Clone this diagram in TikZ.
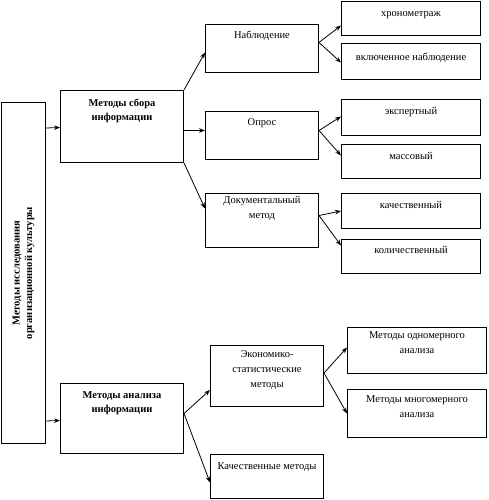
\documentclass[tikz,border=0pt]{standalone}
\usepackage{fontspec}
\setmainfont{Liberation Serif}
\usetikzlibrary{calc,arrows.meta}

\tikzset{
    box/.style={draw,line width=1pt,anchor=north west,inner sep=0pt},
    txt/.style={anchor=north,align=center,inner sep=0pt,font=\fontsize{10.5}{15}\selectfont,
        execute at begin node=\strut},
    head/.style={txt,font=\fontsize{10.5}{14}\selectfont\bfseries},
    arr/.style={line width=0.8pt,-{Stealth[length=6pt,width=4.5pt]}}
}

\begin{document}
\begin{tikzpicture}[x=1pt,y=-1pt]
    \useasboundingbox (0,0) rectangle (488,500);

    %%% Root %%%

    \node[box,minimum width=44pt,minimum height=341pt] (root) at (1,102) {};
    \node[align=center,rotate=90,font=\fontsize{10.5}{12.5}\selectfont\bfseries] (root-t) at (root.center)
        {Методы исследования\\организационной культуры};

    %%% Level 1 %%%

    \node[box,minimum width=123pt,minimum height=72pt] (sbor) at (60,90) {};
    \node[head] (sbor-t) at ($(sbor.north)+(0,9)$) {Методы сбора\\информации};

    \node[box,minimum width=123pt,minimum height=70pt] (analiz) at (60,383) {};
    \node[head] (analiz-t) at ($(analiz.north)+(0,8)$) {Методы анализа\\информации};

    %%% Level 2 %%%

    \node[box,minimum width=113pt,minimum height=48pt] (nab) at (205,24) {};
    \node[txt] (nab-t) at ($(nab.north)+(0,4)$) {Наблюдение};

    \node[box,minimum width=113pt,minimum height=48pt] (opros) at (205,111) {};
    \node[txt] (opros-t) at ($(opros.north)+(0,4)$) {Опрос};

    \node[box,minimum width=113pt,minimum height=54pt] (doc) at (205,193) {};
    \node[txt] (doc-t) at ($(doc.north)+(0,3)$) {Документальный\\метод};

    \node[box,minimum width=113pt,minimum height=61pt] (ekon) at (210,345) {};
    \node[txt] (ekon-t) at ($(ekon.north)+(0,5)$) {Экономико-\\статистические\\методы};

    \node[box,minimum width=113pt,minimum height=44pt] (kachm) at (210,454) {};
    \node[txt] (kachm-t) at ($(kachm.north)+(0,5)$) {Качественные методы};

    %%% Level 3 %%%

    \node[box,minimum width=139pt,minimum height=34pt] (xron) at (341,1) {};
    \node[txt] (xron-t) at ($(xron.north)+(0,5)$) {хронометраж};

    \node[box,minimum width=139pt,minimum height=36pt] (vkl) at (341,43) {};
    \node[txt] (vkl-t) at ($(vkl.north)+(0,7)$) {включенное наблюдение};

    \node[box,minimum width=139pt,minimum height=36pt] (eksp) at (341,99) {};
    \node[txt] (eksp-t) at ($(eksp.north)+(0,5)$) {экспертный};

    \node[box,minimum width=139pt,minimum height=34pt] (mass) at (341,144) {};
    \node[txt] (mass-t) at ($(mass.north)+(0,5)$) {массовый};

    \node[box,minimum width=139pt,minimum height=35pt] (kach) at (341,193) {};
    \node[txt] (kach-t) at ($(kach.north)+(0,5)$) {качественный};

    \node[box,minimum width=139pt,minimum height=34pt] (kol) at (341,239) {};
    \node[txt] (kol-t) at ($(kol.north)+(0,4)$) {количественный};

    \node[box,minimum width=139pt,minimum height=46pt] (odn) at (347,327) {};
    \node[txt] (odn-t) at ($(odn.north)+(0,4)$) {Методы одномерного\\анализа};

    \node[box,minimum width=139pt,minimum height=48pt] (mnog) at (347,389) {};
    \node[txt] (mnog-t) at ($(mnog.north)+(0,6)$) {Методы многомерного\\анализа};

    %%% Arrows %%%

    \draw[arr] ($(root.east)+(0,-145)$) -- ($(sbor.west)+(0,1)$);
    \draw[arr] ($(root.east)+(0,148)$) -- ($(analiz.west)+(0,2)$);

    \draw[arr] (sbor.north east) -- ($(nab.west)+(0,4)$);
    \draw[arr] ($(sbor.east)+(0,4)$) -- ($(opros.west)+(0,-5)$);
    \draw[arr] (sbor.south east) -- ($(doc.west)+(0,-12)$);

    \draw[arr] ($(nab.east)+(0,-6)$) -- ($(xron.west)+(0,7)$);
    \draw[arr] ($(nab.east)+(0,-6)$) -- ($(vkl.west)+(0,1)$);
    \draw[arr] ($(opros.east)+(0,-5)$) -- ($(eksp.west)+(0,-1)$);
    \draw[arr] ($(opros.east)+(0,-5)$) -- ($(mass.west)+(0,-6)$);
    \draw[arr] ($(doc.east)+(0,-5)$) -- (kach.west);
    \draw[arr] ($(doc.east)+(0,-5)$) -- ($(kol.west)+(0,-11)$);

    \draw[arr] ($(analiz.east)+(0,-5)$) -- ($(ekon.west)+(0,14)$);
    \draw[arr] ($(analiz.east)+(0,-5)$) -- ($(kachm.west)+(0,6)$);
    \draw[arr] ($(ekon.east)+(0,-3)$) -- ($(odn.west)+(0,-3)$);
    \draw[arr] ($(ekon.east)+(0,-3)$) -- (mnog.west);

\end{tikzpicture}
\end{document}
